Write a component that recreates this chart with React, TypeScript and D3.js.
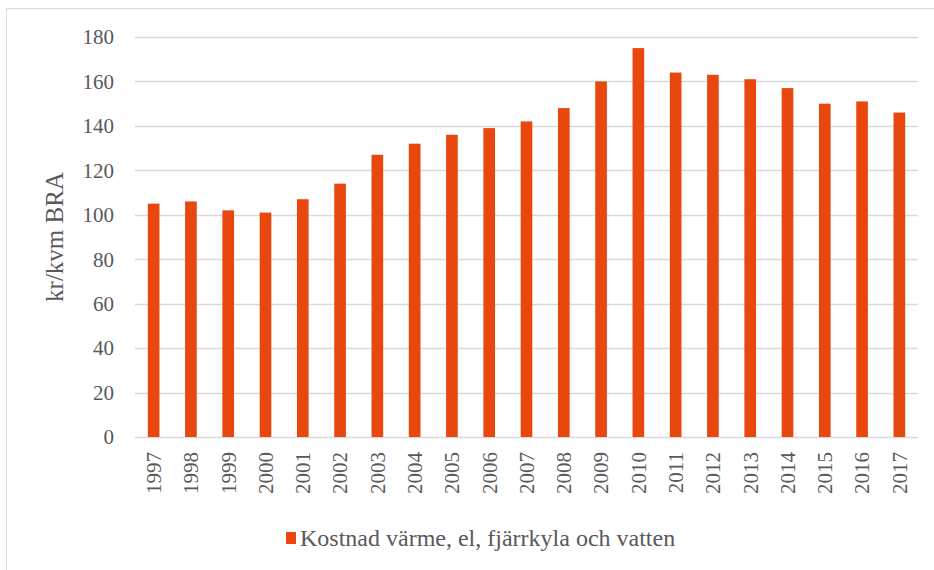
import React, { useEffect, useRef } from "react";
import * as d3 from "d3";

// years and cost per square metre (kr/kvm BRA)
const years = [
  "1997", "1998", "1999", "2000", "2001", "2002", "2003", "2004", "2005", "2006", "2007",
  "2008", "2009", "2010", "2011", "2012", "2013", "2014", "2015", "2016", "2017",
];
const costs = [105, 106, 102, 101, 107, 114, 127, 132, 136, 139, 142, 148, 160, 175, 164, 163, 161, 157, 150, 151, 146];
const yTicks = [0, 20, 40, 60, 80, 100, 120, 140, 160, 180];
const seriesName = "Kostnad värme, el, fjärrkyla och vatten";
const yTitle = "kr/kvm BRA";

function App() {
  const ref = useRef<SVGSVGElement>(null);

  useEffect(() => {
    const width = 934,
      height = 570;
    const left = 135,
      right = 918,
      top = 37,
      bottom = 437;
    const font = "'Liberation Serif', 'DejaVu Serif', 'Times New Roman', serif";
    const textColor = "#595959";

    const svg = d3.select(ref.current);
    svg.selectAll("*").remove();
    svg.attr("width", width).attr("height", height);

    // chart frame
    svg.append("rect")
      .attr("x", 6.5)
      .attr("y", 8.5)
      .attr("width", 940)
      .attr("height", 580)
      .attr("fill", "white")
      .attr("stroke", "#d9d9d9")
      .attr("stroke-width", 1);

    const x = d3.scaleBand()
      .domain(years)
      .range([left, right])
      .paddingInner(0.6875)
      .paddingOuter(0.34375);

    const y = d3.scaleLinear().domain([0, 180]).range([bottom, top]);

    // gridlines
    svg.append("g")
      .selectAll("line")
      .data(yTicks)
      .join("line")
      .attr("x1", left)
      .attr("x2", right)
      .attr("y1", (d) => Math.round(y(d)) + 0.5)
      .attr("y2", (d) => Math.round(y(d)) + 0.5)
      .attr("stroke", "#d9d9d9")
      .attr("stroke-width", 1.3);

    // y labels
    svg.append("g")
      .selectAll("text")
      .data(yTicks)
      .join("text")
      .attr("x", 114)
      .attr("y", (d) => y(d))
      .attr("dy", "0.35em")
      .attr("text-anchor", "end")
      .style("font-family", font)
      .style("font-size", "21px")
      .attr("fill", textColor)
      .text((d) => d);

    // bars
    svg.append("g")
      .selectAll("rect")
      .data(costs)
      .join("rect")
      .attr("x", (d, i) => x(years[i])!)
      .attr("width", x.bandwidth())
      .attr("y", (d) => y(d))
      .attr("height", (d) => y(0) - y(d))
      .attr("fill", "#e8470e");

    // x labels, rotated
    svg.append("g")
      .selectAll("text")
      .data(years)
      .join("text")
      .attr("transform", (d) => `translate(${x(d)! + x.bandwidth() / 2}, 452) rotate(-90)`)
      .attr("dy", "0.35em")
      .attr("text-anchor", "end")
      .style("font-family", font)
      .style("font-size", "21px")
      .attr("fill", textColor)
      .text((d) => d);

    // axis title
    svg.append("text")
      .attr("transform", `translate(54, ${(top + bottom) / 2}) rotate(-90)`)
      .attr("dy", "0.35em")
      .attr("text-anchor", "middle")
      .style("font-family", font)
      .style("font-size", "25px")
      .attr("fill", textColor)
      .text(yTitle);

    // legend
    svg.append("rect")
      .attr("x", 286)
      .attr("y", 532)
      .attr("width", 10)
      .attr("height", 12)
      .attr("fill", "#e8470e");
    svg.append("text")
      .attr("x", 300)
      .attr("y", 546)
      .style("font-family", font)
      .style("font-size", "24px")
      .attr("fill", textColor)
      .text(seriesName);
  }, []);

  return (
    <svg ref={ref} style={{ position: "absolute", left: 0, top: 0 }} />
  );
}

export default App;
